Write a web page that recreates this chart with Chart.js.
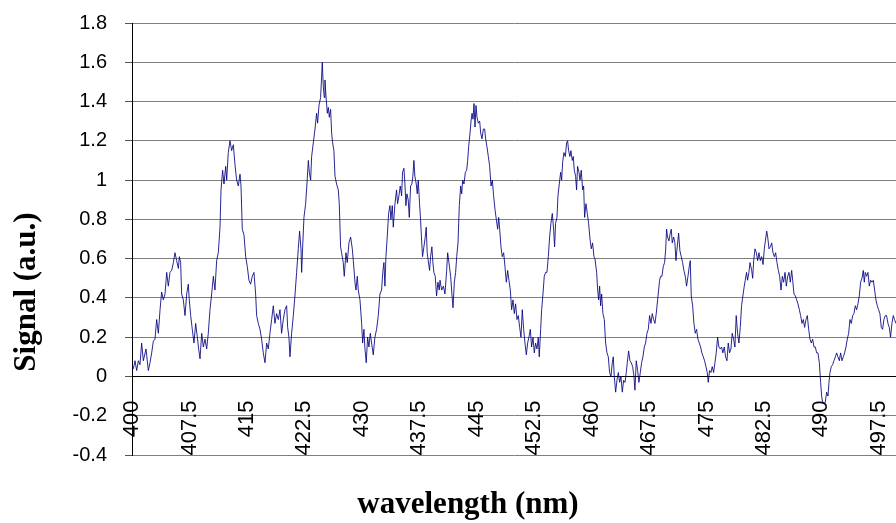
<!DOCTYPE html>
<html>
<head>
<meta charset="utf-8">
<title>Signal vs wavelength</title>
<script src="https://cdn.jsdelivr.net/npm/chart.js@4.4.1/dist/chart.umd.min.js"></script>
<style>
  html, body { margin: 0; padding: 0; background: #fff; }
  #wrap { position: relative; width: 896px; height: 523px; }
</style>
</head>
<body>
<div id="wrap"><canvas id="spectrum"></canvas></div>
<script>
// measured spectrum: wavelength (nm) and signal (a.u.), one row per line
const wavelength = [
  400.00, 400.18, 400.39, 400.61, 400.83, 401.04, 401.26, 401.48, 401.83, 402.13,
  402.35, 402.57, 402.79, 403.00, 403.22, 403.44, 403.66, 403.87, 404.09, 404.31,
  404.53, 404.74, 404.96, 405.18, 405.40, 405.61, 405.83, 406.05, 406.18, 406.35,
  406.48, 406.70, 406.92, 407.14, 407.35, 407.48, 407.66, 407.87, 408.09, 408.31,
  408.53, 408.70, 408.88, 409.10, 409.31, 409.53, 409.75, 409.96, 410.18, 410.40,
  410.62, 410.83, 411.05, 411.27, 411.49, 411.62, 411.83, 412.01, 412.23, 412.36,
  412.57, 412.79, 413.01, 413.23, 413.44, 413.66, 413.88, 414.10, 414.23, 414.40,
  414.62, 414.84, 415.05, 415.27, 415.49, 415.70, 415.92, 416.14, 416.27, 416.49,
  416.71, 416.92, 417.14, 417.36, 417.58, 417.79, 418.01, 418.23, 418.45, 418.66,
  418.88, 419.10, 419.32, 419.53, 419.75,

  419.97, 420.19, 420.32, 420.49, 420.62, 420.84, 421.06, 421.27, 421.49, 421.71,
  421.88, 422.06, 422.15, 422.28, 422.45, 422.67, 422.84, 423.02, 423.15, 423.32,
  423.45, 423.67, 423.89, 424.10, 424.23, 424.41, 424.62, 424.76, 424.84, 424.97,
  425.10, 425.19, 425.32, 425.50, 425.63, 425.76, 425.93, 426.06, 426.19, 426.36,
  426.50, 426.71, 426.93, 427.06, 427.23, 427.36, 427.58, 427.71, 427.93, 428.10,
  428.32, 428.54, 428.76, 428.89, 429.11, 429.24, 429.41, 429.54, 429.76, 429.98,
  430.11, 430.28, 430.41, 430.58, 430.76, 430.93, 431.11, 431.28, 431.50, 431.71,
  431.93, 432.15, 432.37, 432.58, 432.76, 432.89, 433.02, 433.15, 433.32, 433.50,
  433.67, 433.80, 433.98, 434.11, 434.33, 434.54, 434.67, 434.85, 435.02, 435.20,
  435.32, 435.50, 435.63, 435.76, 435.89, 436.06, 436.20, 436.37, 436.54, 436.67,
  436.80, 436.93, 437.11, 437.24, 437.37, 437.54, 437.67, 437.80, 437.93, 438.11,
  438.28, 438.41, 438.54, 438.67, 438.85, 438.98, 439.15, 439.28, 439.41, 439.59,
  439.76, 439.94, 440.11,

  440.21, 440.43, 440.65, 440.86, 441.08, 441.21, 441.38, 441.60, 441.78, 441.91,
  442.08, 442.25, 442.39, 442.56, 442.73, 442.91, 443.04, 443.17, 443.34, 443.52,
  443.69, 443.82, 443.95, 444.13, 444.26, 444.39, 444.52, 444.65, 444.78, 444.91,
  445.04, 445.21, 445.39, 445.52, 445.69, 445.87, 446.04, 446.17, 446.34, 446.52,
  446.69, 446.87, 447.04, 447.21, 447.39, 447.56, 447.74, 447.87, 448.00, 448.17,
  448.34, 448.52, 448.69, 448.87, 449.04, 449.21, 449.39, 449.56, 449.74, 449.91,
  450.08, 450.26, 450.43, 450.61, 450.78, 450.95, 451.13, 451.30, 451.48, 451.65,
  451.82, 452.00, 452.17, 452.35, 452.52, 452.69, 452.87, 453.04, 453.17, 453.35,
  453.48, 453.65, 453.82, 454.00, 454.17, 454.35, 454.52, 454.69, 454.87, 455.04,
  455.17, 455.30, 455.48, 455.61, 455.78, 455.96, 456.09, 456.22, 456.39, 456.57,
  456.74, 456.87, 457.00, 457.17, 457.30, 457.48, 457.61, 457.74, 457.91, 458.04,
  458.17, 458.35, 458.48, 458.65, 458.83, 458.96, 459.09, 459.26, 459.44, 459.61,
  459.79, 459.96, 460.13, 460.31,

  460.44, 460.66, 460.79, 460.92, 461.05, 461.18, 461.31, 461.48, 461.66, 461.83,
  462.01, 462.18, 462.35, 462.53, 462.70, 462.83, 462.96, 463.14, 463.31, 463.49,
  463.66, 463.83, 464.01, 464.18, 464.36, 464.53, 464.66, 464.83, 465.01, 465.18,
  465.36, 465.53, 465.66, 465.83, 466.01, 466.18, 466.36, 466.53, 466.70, 466.88,
  467.05, 467.23, 467.40, 467.57, 467.75, 467.92, 468.10, 468.27, 468.44, 468.62,
  468.75, 468.88, 469.01, 469.18, 469.36, 469.53, 469.66, 469.79, 469.92, 470.10,
  470.27, 470.40, 470.53, 470.71, 470.88, 471.01, 471.18, 471.36, 471.53, 471.71,
  471.88, 472.05, 472.23, 472.40, 472.58, 472.75, 472.88, 473.01, 473.19, 473.36,
  473.53, 473.71, 473.88, 474.06, 474.23, 474.40, 474.58, 474.75, 474.93, 475.10,
  475.23, 475.40, 475.58, 475.75, 475.93, 476.10, 476.27, 476.45, 476.62, 476.80,
  476.97, 477.14, 477.32, 477.49, 477.67, 477.84, 478.01, 478.19, 478.36, 478.54,
  478.71, 478.88, 479.06, 479.23, 479.41, 479.58, 479.75, 479.93, 480.06, 480.23,
  480.36, 480.54,

  480.68, 480.90, 481.03, 481.16, 481.33, 481.51, 481.68, 481.85, 482.03, 482.20,
  482.38, 482.55, 482.72, 482.86, 482.99, 483.16, 483.33, 483.51, 483.68, 483.86,
  484.03, 484.20, 484.38, 484.55, 484.73, 484.90, 485.07, 485.25, 485.42, 485.60,
  485.77, 485.94, 486.12, 486.25, 486.42, 486.60, 486.77, 486.94, 487.12, 487.29,
  487.47, 487.64, 487.81, 487.99, 488.16, 488.34, 488.51, 488.68, 488.86, 489.03,
  489.21, 489.38, 489.55, 489.73, 489.90, 490.03, 490.16, 490.34, 490.51, 490.68,
  490.86, 490.99, 491.12, 491.29, 491.47, 491.64, 491.82, 491.99, 492.16, 492.34,
  492.51, 492.69, 492.86, 493.03, 493.21, 493.38, 493.56, 493.73, 493.90, 494.08,
  494.25, 494.43, 494.60, 494.77, 494.95, 495.12, 495.30, 495.47, 495.60, 495.73,
  495.91, 496.08, 496.25, 496.43, 496.60, 496.78, 496.95, 497.12, 497.30, 497.47,
  497.64, 497.82, 497.99, 498.16, 498.34, 498.51, 498.69, 498.86, 499.03, 499.21,
  499.38, 499.55, 499.73
];

const signal = [
  0.05, 0.04, 0.08, 0.03, 0.08, 0.06, 0.17, 0.08, 0.14, 0.03,
  0.07, 0.12, 0.18, 0.19, 0.29, 0.22, 0.34, 0.43, 0.39, 0.42,
  0.53, 0.46, 0.53, 0.54, 0.58, 0.63, 0.59, 0.55, 0.61, 0.58,
  0.42, 0.39, 0.31, 0.42, 0.47, 0.39, 0.31, 0.24, 0.17, 0.27,
  0.20, 0.14, 0.09, 0.22, 0.15, 0.19, 0.14, 0.22, 0.34, 0.42,
  0.51, 0.44, 0.59, 0.63, 0.76, 0.95, 1.05, 0.98, 1.07, 1.00,
  1.14, 1.20, 1.15, 1.18, 1.08, 1.00, 0.97, 1.03, 0.97, 0.75,
  0.72, 0.61, 0.56, 0.49, 0.47, 0.51, 0.53, 0.42, 0.31, 0.27,
  0.24, 0.19, 0.12, 0.07, 0.17, 0.14, 0.22, 0.29, 0.36, 0.27,
  0.32, 0.29, 0.34, 0.22, 0.29,

  0.34, 0.36, 0.25, 0.20, 0.10, 0.22, 0.31, 0.41, 0.53, 0.65,
  0.74, 0.65, 0.53, 0.66, 0.81, 0.88, 0.98, 1.10, 1.04, 1.00,
  1.12, 1.19, 1.26, 1.34, 1.29, 1.38, 1.42, 1.53, 1.60, 1.48,
  1.42, 1.51, 1.43, 1.34, 1.37, 1.32, 1.36, 1.24, 1.19, 1.15,
  1.02, 0.98, 0.95, 0.88, 0.66, 0.63, 0.58, 0.51, 0.63, 0.58,
  0.68, 0.71, 0.65, 0.59, 0.48, 0.44, 0.51, 0.44, 0.39, 0.27,
  0.17, 0.24, 0.14, 0.07, 0.20, 0.15, 0.22, 0.17, 0.11, 0.20,
  0.24, 0.31, 0.42, 0.44, 0.54, 0.58, 0.46, 0.61, 0.71, 0.83,
  0.87, 0.80, 0.87, 0.76, 0.88, 0.95, 0.88, 0.92, 0.97, 0.92,
  1.04, 1.06, 0.98, 0.87, 0.93, 0.90, 0.81, 0.97, 0.98, 1.02,
  1.10, 1.02, 0.98, 0.93, 1.00, 0.88, 0.80, 0.70, 0.61, 0.66,
  0.71, 0.76, 0.63, 0.59, 0.54, 0.61, 0.66, 0.58, 0.53, 0.51,
  0.41, 0.48, 0.44,

  0.49, 0.44, 0.46, 0.42, 0.54, 0.63, 0.58, 0.51, 0.41, 0.35,
  0.48, 0.53, 0.61, 0.68, 0.87, 0.97, 0.93, 1.00, 0.98, 1.04,
  1.05, 1.10, 1.17, 1.24, 1.30, 1.34, 1.31, 1.39, 1.27, 1.38,
  1.32, 1.29, 1.30, 1.24, 1.21, 1.26, 1.26, 1.21, 1.17, 1.12,
  1.07, 0.97, 1.00, 0.92, 0.85, 0.80, 0.75, 0.81, 0.75, 0.66,
  0.61, 0.63, 0.56, 0.48, 0.54, 0.49, 0.44, 0.34, 0.39, 0.32,
  0.37, 0.29, 0.31, 0.25, 0.20, 0.34, 0.24, 0.17, 0.11, 0.17,
  0.20, 0.24, 0.15, 0.20, 0.12, 0.17, 0.14, 0.20, 0.10, 0.24,
  0.34, 0.42, 0.51, 0.53, 0.53, 0.61, 0.71, 0.78, 0.83, 0.75,
  0.66, 0.78, 0.81, 0.92, 0.98, 1.04, 1.00, 1.09, 1.14, 1.12,
  1.19, 1.20, 1.15, 1.12, 1.15, 1.10, 1.12, 1.05, 1.02, 0.95,
  1.07, 1.04, 1.00, 1.05, 0.95, 0.97, 0.81, 0.88, 0.83, 0.78,
  0.70, 0.65, 0.68, 0.61,

  0.60, 0.53, 0.44, 0.39, 0.46, 0.36, 0.42, 0.32, 0.29, 0.17,
  0.12, 0.10, 0.02, 0.00, 0.07, 0.10, 0.00, -0.08, -0.02, 0.02,
  -0.03, 0.00, -0.08, -0.02, -0.03, 0.02, 0.07, 0.13, 0.08, 0.07,
  0.05, 0.00, -0.07, 0.08, 0.03, -0.03, 0.02, 0.07, 0.10, 0.15,
  0.17, 0.22, 0.24, 0.31, 0.27, 0.32, 0.29, 0.27, 0.32, 0.39,
  0.44, 0.49, 0.51, 0.51, 0.56, 0.58, 0.64, 0.75, 0.71, 0.69,
  0.73, 0.75, 0.68, 0.71, 0.68, 0.59, 0.66, 0.73, 0.64, 0.61,
  0.58, 0.54, 0.51, 0.46, 0.51, 0.56, 0.59, 0.41, 0.36, 0.27,
  0.22, 0.24, 0.19, 0.17, 0.15, 0.12, 0.10, 0.08, 0.05, 0.02,
  -0.03, 0.03, 0.02, 0.05, 0.02, 0.07, 0.12, 0.20, 0.15, 0.14,
  0.15, 0.12, 0.15, 0.10, 0.08, 0.17, 0.12, 0.14, 0.22, 0.19,
  0.15, 0.31, 0.22, 0.17, 0.25, 0.36, 0.41, 0.46, 0.49, 0.53,
  0.49, 0.53,

  0.58, 0.54, 0.50, 0.59, 0.65, 0.63, 0.59, 0.63, 0.59, 0.61,
  0.57, 0.65, 0.70, 0.74, 0.71, 0.65, 0.66, 0.68, 0.63, 0.61,
  0.63, 0.58, 0.54, 0.51, 0.44, 0.51, 0.48, 0.53, 0.46, 0.51,
  0.53, 0.48, 0.54, 0.49, 0.42, 0.41, 0.39, 0.37, 0.34, 0.31,
  0.27, 0.29, 0.25, 0.29, 0.31, 0.24, 0.19, 0.17, 0.19, 0.15,
  0.15, 0.12, 0.12, 0.07, -0.03, -0.10, -0.13, -0.14, -0.13, -0.08,
  -0.10, -0.03, 0.02, 0.05, 0.06, 0.08, 0.10, 0.12, 0.10, 0.08,
  0.12, 0.08, 0.10, 0.12, 0.15, 0.19, 0.22, 0.29, 0.27, 0.31,
  0.32, 0.36, 0.34, 0.37, 0.41, 0.48, 0.50, 0.54, 0.48, 0.53,
  0.51, 0.53, 0.46, 0.49, 0.48, 0.49, 0.44, 0.39, 0.36, 0.34,
  0.32, 0.25, 0.24, 0.29, 0.31, 0.31, 0.27, 0.25, 0.20, 0.27,
  0.31, 0.29, 0.27
];

// category labels along the wavelength axis
const wavelengthTicks = [400, 407.5, 415, 422.5, 430, 437.5, 445, 452.5, 460, 467.5, 475, 482.5, 490, 497.5];

const xTitle = 'wavelength (nm)';
const yTitle = 'Signal (a.u.)';

const points = wavelength.map((x, i) => ({ x: x, y: signal[i] }));

const labelFamily = '"Liberation Sans", Arial, sans-serif';

// axis titles drawn by hand so they can sit off-centre like the original layout
const axisTitles = {
  id: 'axisTitles',
  afterDraw(chart) {
    const { ctx, chartArea } = chart;
    ctx.save();
    ctx.fillStyle = '#000';
    ctx.font = 'bold 31px "Liberation Serif", "Times New Roman", serif';
    ctx.textAlign = 'center';
    ctx.textBaseline = 'middle';
    ctx.fillText(xTitle, chartArea.left + 336, chartArea.bottom + 50);
    ctx.translate(chartArea.left - 105, chartArea.top + 269);
    ctx.rotate(-Math.PI / 2);
    ctx.fillText(yTitle, 0, 0);
    ctx.restore();
  }
};

const ctx = document.getElementById('spectrum').getContext('2d');

new Chart(ctx, {
  type: 'line',
  data: {
    datasets: [{
      label: yTitle,
      data: points,
      borderColor: '#000080',
      borderWidth: 0.85,
      pointRadius: 0,
      tension: 0,
      fill: false
    }]
  },
  options: {
    responsive: true,
    maintainAspectRatio: false,
    animation: false,
    layout: { padding: { top: 23, right: 0, bottom: 68, left: 0 } },
    plugins: {
      legend: { display: false },
      tooltip: { enabled: false }
    },
    scales: {
      x: {
        type: 'linear',
        position: { y: 0 },
        min: 400,
        max: 499.74,
        afterBuildTicks: (scale) => {
          scale.ticks = wavelengthTicks.map(v => ({ value: v }));
        },
        // labels may hang past the plot edges, keep the plot full width
        afterFit: (scale) => {
          scale.paddingLeft = 0;
          scale.paddingRight = 0;
        },
        grid: { display: false, drawTicks: false },
        border: { display: true, color: '#000', width: 1 },
        ticks: {
          autoSkip: false,
          minRotation: 90,
          maxRotation: 90,
          padding: 24,
          color: '#000',
          font: { family: labelFamily, size: 22 },
          callback: (v) => String(v)
        }
      },
      y: {
        min: -0.4,
        max: 1.8,
        afterFit: (scale) => {
          scale.width = 132;
          scale.paddingTop = 0;
          scale.paddingBottom = 0;
        },
        grid: {
          color: (c) => (c.tick && Math.abs(c.tick.value) < 1e-9 ? '#000' : '#7f7f7f'),
          tickColor: '#555',
          tickLength: 7,
          lineWidth: 1
        },
        border: { display: true, color: '#000', width: 1 },
        ticks: {
          stepSize: 0.2,
          padding: 18,
          color: '#000',
          font: { family: labelFamily, size: 20 },
          callback: (v) => String(+Number(v).toFixed(1))
        }
      }
    }
  },
  plugins: [axisTitles]
});
</script>
</body>
</html>
